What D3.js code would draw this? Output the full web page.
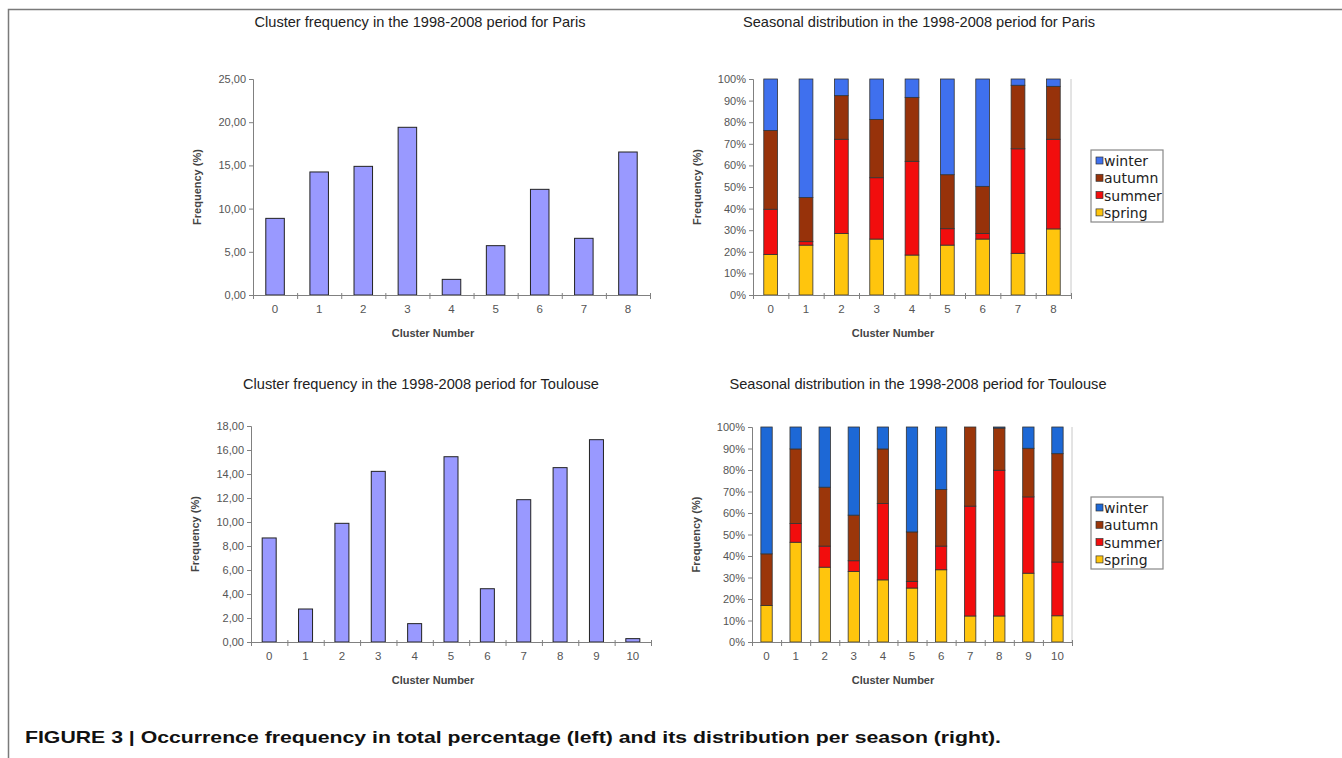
<!DOCTYPE html>
<html>
<head>
<meta charset="utf-8">
<script src="https://cdn.jsdelivr.net/npm/d3@7"></script>
<style>
  body { margin: 0; background: #fff; }
  svg { display: block; font-family: "Liberation Sans", Arial, sans-serif; }
</style>
</head>
<body>
<div id="main"></div>
<script>
// ---- data ----
var parisClusters = ["0","1","2","3","4","5","6","7","8"];
var parisFreq = [8.87, 14.24, 14.89, 19.41, 1.81, 5.71, 12.23, 6.56, 16.55];
var parisSpring = [18.8, 23.1, 28.5, 25.9, 18.5, 23.1, 25.9, 19.3, 30.6];
var parisSummer = [20.9, 1.6, 43.6, 28.4, 43.4, 7.6, 2.6, 48.4, 41.5];
var parisAutumn = [36.5, 20.4, 20.2, 27.0, 29.6, 25.0, 21.8, 29.4, 24.5];
var parisWinter = [23.8, 54.9, 7.7, 18.7, 8.5, 44.3, 49.7, 2.9, 3.4];

var toulouseClusters = ["0","1","2","3","4","5","6","7","8","9","10"];
var toulouseFreq = [8.67, 2.75, 9.89, 14.22, 1.53, 15.44, 4.44, 11.86, 14.53, 16.86, 0.28];
var toulouseSpring = [17.0, 46.4, 34.8, 32.8, 28.9, 25.1, 33.6, 12.1, 12.1, 32.0, 12.2];
var toulouseSummer = [0.0, 8.7, 9.8, 5.0, 35.5, 3.1, 11.0, 51.1, 67.8, 35.5, 25.0];
var toulouseAutumn = [24.0, 34.7, 27.4, 21.2, 25.4, 23.0, 26.3, 36.8, 19.6, 22.6, 50.4];
var toulouseWinter = [59.0, 10.2, 28.0, 41.0, 10.2, 48.8, 29.1, 0.0, 0.5, 9.9, 12.4];

var seasons = ["spring", "summer", "autumn", "winter"];
var legendOrder = ["winter", "autumn", "summer", "spring"];

var parisFreqTicks = [0, 5, 10, 15, 20, 25];
var toulouseFreqTicks = [0, 2, 4, 6, 8, 10, 12, 14, 16, 18];
var pctTicks = [0, 10, 20, 30, 40, 50, 60, 70, 80, 90, 100];

var commaFmt = d3.formatLocale({decimal: ",", thousands: ".", grouping: [3], currency: ["", ""]}).format(".2f");

var svg = d3.select("#main").append("svg")
  .attr("width", 1342)
  .attr("height", 758);

// outer frame (top and left edges visible)
svg.append("path")
  .attr("d", "M8.5,758 L8.5,9.5 L1342,9.5")
  .attr("fill", "none")
  .attr("stroke", "#7a7a7a")
  .attr("stroke-width", 1.5);

function drawAxes(g, x, y, ticks, fmt, n, box) {
  // y axis
  g.append("g")
    .attr("transform", "translate(" + box.x0 + ",0)")
    .call(d3.axisLeft(y).tickValues(ticks).tickFormat(fmt).tickSize(4).tickPadding(3))
    .call(function(a) {
      a.select(".domain").attr("stroke", "#808080");
      a.selectAll(".tick line").attr("stroke", "#808080");
      a.selectAll("text").attr("fill", "#555").style("font-size", "11px").style("font-family", "Liberation Sans, Arial, sans-serif");
    });

  // boundary ticks along the x axis
  var xb = d3.scaleLinear().domain([0, n]).range([box.x0, box.x1]);
  g.append("g")
    .attr("transform", "translate(0," + box.y0 + ")")
    .call(d3.axisBottom(xb).tickValues(d3.range(n + 1)).tickFormat("").tickSizeOuter(0).tickSize(4))
    .call(function(a) {
      a.select(".domain").attr("stroke", "#808080");
      a.selectAll(".tick line").attr("stroke", "#808080").attr("y1", -2);
    });

  // category labels
  g.append("g")
    .attr("transform", "translate(0," + box.y0 + ")")
    .call(d3.axisBottom(x).tickSize(0).tickPadding(10))
    .call(function(a) {
      a.select(".domain").remove();
      a.selectAll("text").attr("fill", "#555").style("font-size", "11.5px").style("font-family", "Liberation Sans, Arial, sans-serif");
    });
}

function drawTitles(g, title, box, titleX, titleY) {
  g.append("text")
    .attr("x", titleX)
    .attr("y", titleY)
    .attr("text-anchor", "middle")
    .attr("fill", "#222")
    .style("font-size", "14.6px")
    .text(title);

  g.append("text")
    .attr("transform", "translate(" + (box.x0 - 52) + "," + ((box.y0 + box.y1) / 2) + ") rotate(-90)")
    .attr("text-anchor", "middle")
    .attr("fill", "#444")
    .style("font-size", "11px")
    .style("font-weight", "bold")
    .text("Frequency (%)");

  g.append("text")
    .attr("x", box.labelX)
    .attr("y", box.y0 + 42)
    .attr("text-anchor", "middle")
    .attr("fill", "#444")
    .style("font-size", "11px")
    .style("font-weight", "bold")
    .text("Cluster Number");
}

function freqChart(cats, vals, ticks, box, title, titleX, titleY) {
  var g = svg.append("g");
  var x = d3.scaleBand().domain(cats).range([box.x0, box.x1]).paddingInner(box.pad).paddingOuter(box.pad / 2);
  var y = d3.scaleLinear().domain([0, ticks[ticks.length - 1]]).range([box.y0, box.y1]);

  g.selectAll("rect.bar")
    .data(cats)
    .enter()
    .append("rect")
      .attr("class", "bar")
      .attr("x", function(d) { return x(d); })
      .attr("width", x.bandwidth())
      .attr("y", function(d, i) { return y(vals[i]); })
      .attr("height", function(d, i) { return y(0) - y(vals[i]); })
      .attr("fill", "#9999ff")
      .attr("stroke", "#222")
      .attr("stroke-width", 1);

  drawAxes(g, x, y, ticks, commaFmt, cats.length, box);
  drawTitles(g, title, box, titleX, titleY);
}

function stackChart(cats, series, colors, box, title, titleX, titleY, legendBox) {
  var g = svg.append("g");
  var x = d3.scaleBand().domain(cats).range([box.x0, box.x1]).paddingInner(box.pad).paddingOuter(box.pad / 2);
  var y = d3.scaleLinear().domain([0, 100]).range([box.y0, box.y1]);

  var rows = cats.map(function(c, i) {
    var r = {cluster: c};
    seasons.forEach(function(s) { r[s] = series[s][i]; });
    return r;
  });
  var stacked = d3.stack().keys(seasons)(rows);

  // faint right-hand frame line
  g.append("line")
    .attr("x1", box.x1).attr("x2", box.x1)
    .attr("y1", box.y1).attr("y2", box.y0)
    .attr("stroke", "#c8c8c8");

  g.selectAll("g.layer")
    .data(stacked)
    .enter()
    .append("g")
      .attr("class", "layer")
      .attr("fill", function(d) { return colors[d.key]; })
    .selectAll("rect")
    .data(function(d) { return d; })
    .enter()
    .append("rect")
      .attr("x", function(d) { return x(d.data.cluster); })
      .attr("width", x.bandwidth())
      .attr("y", function(d) { return y(d[1]); })
      .attr("height", function(d) { return y(d[0]) - y(d[1]); })
      .attr("stroke", "#333")
      .attr("stroke-width", 0.8);

  drawAxes(g, x, y, pctTicks, function(d) { return d + "%"; }, cats.length, box);
  drawTitles(g, title, box, titleX, titleY);

  // legend
  var lg = g.append("g");
  lg.append("rect")
    .attr("x", legendBox.x).attr("y", legendBox.y)
    .attr("width", 72).attr("height", 72)
    .attr("fill", "#fff")
    .attr("stroke", "#888")
    .attr("stroke-width", 1.2);
  legendOrder.forEach(function(s, i) {
    var by = legendBox.y + 16 + i * 17.3;
    lg.append("rect")
      .attr("x", legendBox.x + 5).attr("y", by - 9)
      .attr("width", 7).attr("height", 7)
      .attr("fill", colors[s])
      .attr("stroke", "#333")
      .attr("stroke-width", 0.7);
    lg.append("text")
      .attr("x", legendBox.x + 13)
      .attr("y", by)
      .attr("fill", "#222")
      .style("font-family", "DejaVu Sans, sans-serif")
      .style("font-size", "14px")
      .text(s);
  });
}

freqChart(parisClusters, parisFreq, parisFreqTicks,
  {x0: 253, x1: 650, y0: 295, y1: 79, pad: 0.58, labelX: 433},
  "Cluster frequency in the 1998-2008 period for Paris", 420, 27);

stackChart(parisClusters,
  {spring: parisSpring, summer: parisSummer, autumn: parisAutumn, winter: parisWinter},
  {spring: "#ffc50d", summer: "#f20d0d", autumn: "#97320a", winter: "#3f70ee"},
  {x0: 753, x1: 1071, y0: 295, y1: 79, pad: 0.61, labelX: 893},
  "Seasonal distribution in the 1998-2008 period for Paris", 919, 27,
  {x: 1091, y: 150});

freqChart(toulouseClusters, toulouseFreq, toulouseFreqTicks,
  {x0: 251, x1: 651, y0: 642, y1: 426, pad: 0.615, labelX: 433},
  "Cluster frequency in the 1998-2008 period for Toulouse", 421, 389);

stackChart(toulouseClusters,
  {spring: toulouseSpring, summer: toulouseSummer, autumn: toulouseAutumn, winter: toulouseWinter},
  {spring: "#ffc50d", summer: "#f20d0d", autumn: "#9b360a", winter: "#1d68d6"},
  {x0: 752, x1: 1072, y0: 642, y1: 427, pad: 0.61, labelX: 893},
  "Seasonal distribution in the 1998-2008 period for Toulouse", 918, 389,
  {x: 1091, y: 497});

// caption
svg.append("text")
  .attr("x", 25)
  .attr("y", 743)
  .attr("fill", "#111")
  .attr("textLength", 976)
  .attr("lengthAdjust", "spacingAndGlyphs")
  .style("font-size", "17px")
  .style("font-weight", "bold")
  .text("FIGURE 3 | Occurrence frequency in total percentage (left) and its distribution per season (right).");
</script>
</body>
</html>
